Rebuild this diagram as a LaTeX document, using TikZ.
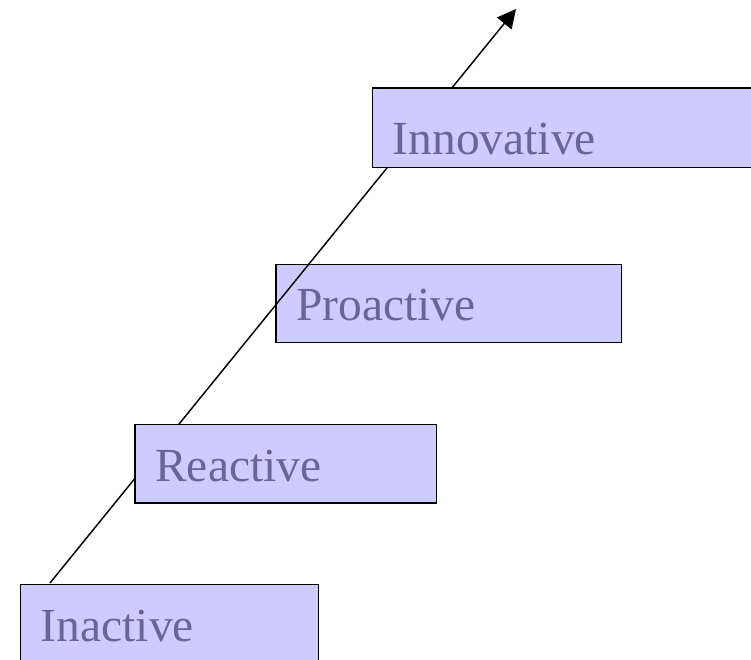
\documentclass[tikz,border=0pt]{standalone}
\usepackage{fontspec}
\setmainfont{Liberation Serif}
\usetikzlibrary{arrows.meta}
\definecolor{boxfill}{HTML}{CCCCFF}
\definecolor{boxtext}{HTML}{666699}
\begin{document}
\begin{tikzpicture}[x=0.75pt,y=-0.75pt,
  stage/.style={draw=black,line width=1.1pt,fill=boxfill,rectangle,anchor=north west,inner sep=0pt},
  stagetext/.style={anchor=base west,inner sep=0pt,text=boxtext,font=\fontsize{35.6}{40}\selectfont},
  growth/.style={line width=1.1pt,-{Triangle[length=14pt,width=14pt]}}]
\useasboundingbox (0,0) rectangle (751,660);
\clip (0,0) rectangle (751,660);
\coordinate (start) at (50,583);
\coordinate (tip) at (516,9);
% Proactive box lies beneath the arrow
\node[stage,minimum width=345.7*0.75pt,minimum height=77.7*0.75pt] (proactive) at (275.3,264) {};
\node[stagetext] (tproactive) at (296,320.7) {Proactive};
\draw[growth] (start) -- (tip);
\node[stage,minimum width=298*0.75pt,minimum height=100*0.75pt] (inactive) at (20,583.7) {};
\node[stagetext] (tinactive) at (40.7,641) {Inactive};
\node[stage,minimum width=301.7*0.75pt,minimum height=78.3*0.75pt] (reactive) at (134.3,424) {};
\node[stagetext] (treactive) at (155,481.7) {Reactive};
\node[stage,minimum width=400*0.75pt,minimum height=79.4*0.75pt] (innovative) at (372,87.3) {};
\node[stagetext] (tinnovative) at (392.7,154.5) {Innovative};
\end{tikzpicture}
\end{document}
